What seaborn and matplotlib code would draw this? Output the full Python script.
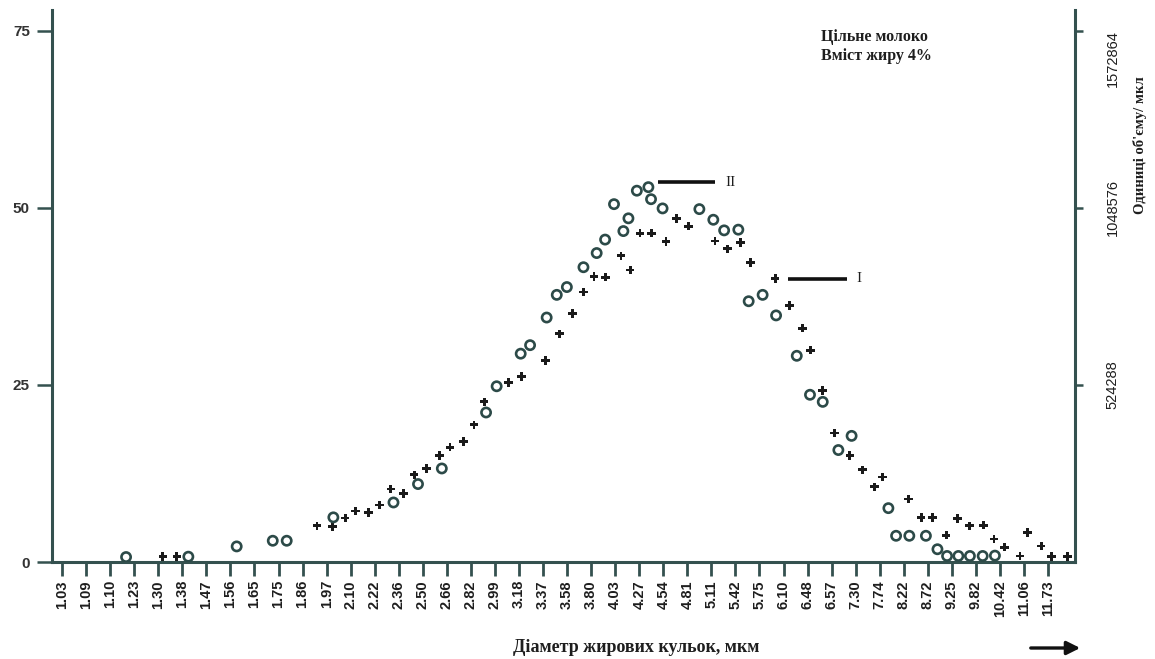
import matplotlib
matplotlib.use("Agg")
import matplotlib.pyplot as plt
from matplotlib.patches import FancyArrowPatch
import pandas as pd
import seaborn as sns

# Size classes of fat globules (µm), one tick per class
size_classes = ["1.03", "1.09", "1.10", "1.23", "1.30", "1.38", "1.47", "1.56",
                "1.65", "1.75", "1.86", "1.97", "2.10", "2.22", "2.36", "2.50",
                "2.66", "2.82", "2.99", "3.18", "3.37", "3.58", "3.80", "4.03",
                "4.27", "4.54", "4.81", "5.11", "5.42", "5.75", "6.10", "6.48",
                "6.57", "7.30", "7.74", "8.22", "8.72", "9.25", "9.82", "10.42",
                "11.06", "11.73"]

# Curve I (filled crosses): position on the class scale and share, %
class_pos_I = [4.19, 4.77, 10.6, 11.24, 11.77, 12.2, 12.75, 13.2, 13.67, 14.2,
               14.64, 15.16, 15.69, 16.13, 16.69, 17.13, 17.55, 18.56, 19.11,
               20.11, 20.68, 21.23, 21.68, 22.12, 22.6, 23.24, 23.62, 24.03,
               24.52, 25.11, 25.56, 26.04, 27.15, 27.66, 28.22, 28.63, 29.65,
               30.24, 30.78, 31.13, 31.63, 32.11, 32.76, 33.29, 33.78, 34.12,
               35.19, 35.72, 36.2, 36.76, 37.23, 37.73, 38.31, 38.75, 39.2,
               39.83, 40.14, 40.71, 41.15, 41.8]
share_I = [0.75, 0.75, 5.1, 5.0, 6.2, 7.2, 7.0, 8.05, 10.3, 9.7,
           12.3, 13.2, 15.0, 16.2, 17.0, 19.35, 22.6, 25.3, 26.2,
           28.4, 32.2, 35.1, 38.1, 40.3, 40.2, 43.2, 41.2, 46.4,
           46.4, 45.2, 48.5, 47.4, 45.3, 44.2, 45.1, 42.3, 40.0,
           36.2, 33.0, 29.9, 24.2, 18.2, 15.0, 13.0, 10.6, 12.0,
           8.9, 6.3, 6.3, 3.8, 6.1, 5.1, 5.2, 3.25, 2.1,
           0.85, 4.2, 2.26, 0.75, 0.75]

# Curve II (open circles)
class_pos_II = [2.66, 5.25, 7.26, 8.76, 9.34, 11.28, 13.78, 14.8, 15.79, 17.63,
                18.07, 19.07, 19.46, 20.15, 20.57, 20.99, 21.68, 22.23, 22.58,
                22.95, 23.34, 23.55, 23.9, 24.38, 24.49, 24.97, 26.5, 27.08,
                27.53, 28.12, 28.55, 29.13, 29.69, 30.55, 31.1, 31.63, 32.28,
                32.83, 34.36, 34.68, 35.23, 35.92, 36.4, 36.8, 37.27, 37.75,
                38.28, 38.79]
share_II = [0.7, 0.75, 2.2, 3.0, 3.0, 6.3, 8.4, 11.0, 13.2, 21.1,
            24.8, 29.4, 30.6, 34.5, 37.7, 38.8, 41.6, 43.6, 45.5,
            50.5, 46.7, 48.5, 52.4, 52.9, 51.2, 49.9, 49.8, 48.3,
            46.8, 46.9, 36.8, 37.7, 34.8, 29.1, 23.6, 22.6, 15.8,
            17.8, 7.6, 3.7, 3.7, 3.7, 1.8, 0.85, 0.85, 0.85,
            0.85, 0.9]

left_ticks = [0, 25, 50, 75]
right_ticks = [524288, 1048576, 1572864]
units_per_percent = 1572864 / 75

df_I = pd.DataFrame({"pos": class_pos_I, "share": share_I})
df_II = pd.DataFrame({"pos": class_pos_II, "share": share_II})

sns.set_style("ticks")
plt.rcParams["font.family"] = ["Liberation Sans", "DejaVu Sans"]

spine_col = "#34514f"
circle_col = "#2c4a48"
text_col = "#1e1e1e"

W, H = 1155, 659
fig = plt.figure(figsize=(W / 100, H / 100), dpi=100)
ax = fig.add_axes([52 / W, (H - 562) / H, (1075 - 52) / W, (562 - 10) / H])

sns.scatterplot(data=df_I, x="pos", y="share", marker="P", s=38,
                color="#1a1a1a", edgecolor="none", ax=ax, zorder=3)
sns.scatterplot(data=df_II, x="pos", y="share", marker="o", s=44,
                facecolor="none", edgecolor=circle_col, linewidth=1.9,
                ax=ax, zorder=3)

ylim_top = 77.9
ax.set_xlim(-0.42, 42.12)
ax.set_ylim(0, ylim_top)
ax.set_xlabel("")
ax.set_ylabel("")

ax.set_xticks(range(len(size_classes)))
ax.set_xticklabels(size_classes, rotation=90, fontweight="bold",
                   fontsize=10.5, color=text_col)
ax.set_yticks(left_ticks)
ax.set_yticklabels([str(t) for t in left_ticks], fontweight="bold",
                   fontsize=11, color="#333333")
ax.tick_params(axis="x", length=10, width=2, color=spine_col, pad=3)
ax.tick_params(axis="y", length=11, width=1.8, color=spine_col, pad=5)

for side in ["top", "right"]:
    ax.spines[side].set_visible(False)
for side in ["left", "bottom"]:
    ax.spines[side].set_color(spine_col)
    ax.spines[side].set_linewidth(2.2)

# Right-hand scale: volume units per µl
ax2 = ax.twinx()
ax2.set_ylim(0, ylim_top * units_per_percent)
ax2.set_yticks(right_ticks)
ax2.set_yticklabels([str(t) for t in right_ticks], rotation=90,
                    va="center", fontsize=10.5, color=text_col)
ax2.get_yticklabels()[-1].set_va("top")
ax2.tick_params(axis="y", length=6, width=1.8, color=spine_col, pad=16)
for side in ["top", "left", "bottom"]:
    ax2.spines[side].set_visible(False)
ax2.spines["right"].set_color(spine_col)
ax2.spines["right"].set_linewidth(2.2)

ax2.text(1.0635, 0.755, "Одиниці об'єму/ мкл", transform=ax.transAxes,
         rotation=90, ha="center", va="center", fontsize=10.5,
         fontweight="bold", family="Liberation Serif", color=text_col)

# Curve labels
ax.plot([24.78, 27.15], [53.6, 53.6], color="#111111", lw=2.6,
        solid_capstyle="butt")
ax.text(27.6, 53.6, "II", ha="left", va="center", fontsize=11,
        family="Liberation Serif", color=text_col)
ax.plot([30.19, 32.64], [40.0, 40.0], color="#111111", lw=2.6,
        solid_capstyle="butt")
ax.text(33.05, 40.0, "I", ha="left", va="center", fontsize=11,
        family="Liberation Serif", color=text_col)

# Sample description
ax.text(0.752, 0.965, "Цільне молоко\nВміст жиру 4%", transform=ax.transAxes,
        ha="left", va="top", fontsize=11.5, fontweight="bold",
        family="Liberation Serif", color=text_col, linespacing=1.25)

# Axis caption and direction arrow
fig.text(636 / W, (H - 648) / H, "Діаметр жирових кульок, мкм",
         ha="center", va="center", fontsize=13, fontweight="bold",
         family="Liberation Serif", color=text_col)
fig.add_artist(FancyArrowPatch((1028 / W, (H - 648) / H),
                               (1083 / W, (H - 648) / H),
                               transform=fig.transFigure, arrowstyle="-|>",
                               mutation_scale=20, lw=2.4, color="#111111"))

fig.savefig("out.png", dpi=100)
